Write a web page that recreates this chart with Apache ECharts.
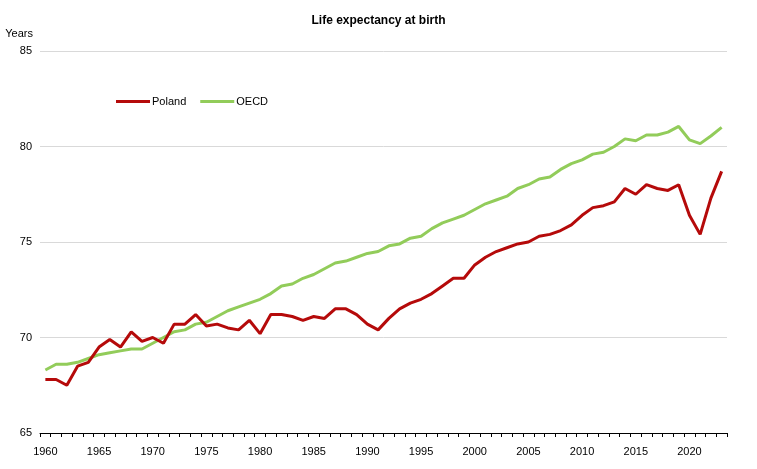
<!DOCTYPE html>
<html>
<head>
<meta charset="utf-8">
<script src="https://cdn.jsdelivr.net/npm/echarts@6/dist/echarts.min.js"></script>
<style>
  html, body { margin: 0; padding: 0; background: #fff; }
  #chart { width: 757px; height: 469px; }
</style>
</head>
<body>
<div id="chart"></div>
<script>
var years = [];
for (var y = 1960; y <= 2023; y++) years.push(String(y));

var poland = [
  67.8, 67.8, 67.5, 68.5, 68.7, 69.5, 69.9, 69.5, 70.3, 69.8,
  70.0, 69.7, 70.7, 70.7, 71.2, 70.6, 70.7, 70.5, 70.4, 70.9,
  70.2, 71.2, 71.2, 71.1, 70.9, 71.1, 71.0, 71.5, 71.5, 71.2,
  70.7, 70.4, 71.0, 71.5, 71.8, 72.0, 72.3, 72.7, 73.1, 73.1,
  73.8, 74.2, 74.5, 74.7, 74.9, 75.0, 75.3, 75.4, 75.6, 75.9,
  76.4, 76.8, 76.9, 77.1, 77.8, 77.5, 78.0, 77.8, 77.7, 78.0,
  76.4, 75.4, 77.3, 78.7
];

var oecd = [
  68.3, 68.6, 68.6, 68.7, 68.9, 69.1, 69.2, 69.3, 69.4, 69.4,
  69.7, 70.0, 70.3, 70.4, 70.7, 70.8, 71.1, 71.4, 71.6, 71.8,
  72.0, 72.3, 72.7, 72.8, 73.1, 73.3, 73.6, 73.9, 74.0, 74.2,
  74.4, 74.5, 74.8, 74.9, 75.2, 75.3, 75.7, 76.0, 76.2, 76.4,
  76.7, 77.0, 77.2, 77.4, 77.8, 78.0, 78.3, 78.4, 78.8, 79.1,
  79.3, 79.6, 79.7, 80.0, 80.4, 80.3, 80.6, 80.6, 80.75, 81.05,
  80.35, 80.15, 80.55, 81.0
];

var font = 'Liberation Sans, Arial, sans-serif';
var chart = echarts.init(document.getElementById('chart'));
chart.setOption({
  backgroundColor: '#fff',
  animation: false,
  title: {
    text: 'Life expectancy at birth',
    left: 'center',
    top: 10,
    textStyle: { fontFamily: font, fontSize: 12, fontWeight: 'bold', color: '#000' }
  },
  legend: {
    left: 111,
    top: 91,
    icon: 'rect',
    itemWidth: 34,
    itemHeight: 3,
    itemGap: 14,
    textStyle: { fontFamily: font, fontSize: 11, color: '#000', padding: [0, 0, 0, -3] },
    data: ['Poland', 'OECD']
  },
  grid: { left: 40, right: 30, top: 51, bottom: 36 },
  xAxis: {
    type: 'category',
    data: years,
    boundaryGap: true,
    axisLine: { lineStyle: { color: '#000', width: 1 } },
    axisTick: { show: true, length: 4, interval: 0, lineStyle: { color: '#000' } },
    axisLabel: {
      interval: 4,
      color: '#000',
      fontFamily: font,
      fontSize: 11,
      margin: 13
    },
    splitLine: { show: false }
  },
  yAxis: {
    type: 'value',
    min: 65,
    max: 85,
    interval: 5,
    name: 'Years',
    nameLocation: 'end',
    nameGap: 12,
    nameTextStyle: { fontFamily: font, fontSize: 11, color: '#000', align: 'right', padding: [0, 7, 0, 0] },
    axisLine: { show: false },
    axisTick: { show: false },
    axisLabel: { color: '#000', fontFamily: font, fontSize: 11, margin: 8 },
    splitLine: { lineStyle: { color: '#d9d9d9', width: 1 } }
  },
  series: [
    {
      name: 'Poland',
      type: 'line',
      data: poland,
      symbol: 'none',
      lineStyle: { color: '#b50a0a', width: 3 },
      itemStyle: { color: '#b50a0a' },
      z: 3
    },
    {
      name: 'OECD',
      type: 'line',
      data: oecd,
      symbol: 'none',
      lineStyle: { color: '#92cc5a', width: 3 },
      itemStyle: { color: '#92cc5a' },
      z: 2
    }
  ]
});
</script>
</body>
</html>
